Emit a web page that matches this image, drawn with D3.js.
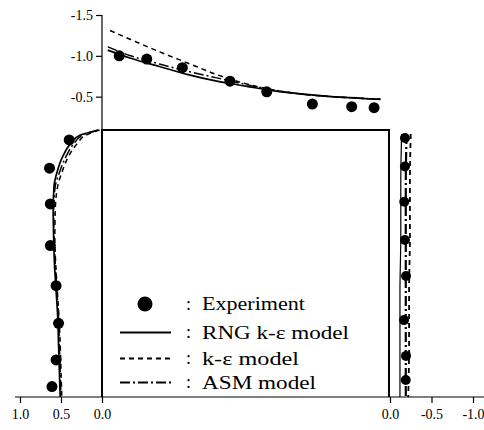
<!DOCTYPE html>
<html>
<head>
<meta charset="utf-8">
<script src="https://cdn.jsdelivr.net/npm/d3@7/dist/d3.min.js"></script>
<style>
  body { margin: 0; background: #fff; }
  svg { display: block; font-family: "Liberation Serif", "DejaVu Serif", serif; }
</style>
</head>
<body>
<svg id="chart" width="484" height="430"></svg>
<script>
// ---- data ----
// roof profile: [position along roof 0..1, value]
var roofExp = [[0.06,-1.0],[0.156,-0.96],[0.28,-0.855],[0.446,-0.69],[0.574,-0.56],[0.733,-0.41],[0.87,-0.378],[0.948,-0.365]]
var roofRNG = [[0.02,-1.07],[0.1,-0.97],[0.2,-0.87],[0.3,-0.77],[0.4,-0.69],[0.5,-0.63],[0.6,-0.57],[0.7,-0.53],[0.8,-0.5],[0.9,-0.48],[0.97,-0.465]]
var roofKE  = [[0.028,-1.31],[0.1,-1.2],[0.2,-1.05],[0.3,-0.91],[0.4,-0.77],[0.5,-0.66],[0.6,-0.58],[0.7,-0.53],[0.8,-0.5],[0.9,-0.48],[0.97,-0.47]]
var roofASM = [[0.02,-1.11],[0.1,-1.0],[0.2,-0.9],[0.3,-0.81],[0.4,-0.73],[0.5,-0.65],[0.6,-0.58],[0.7,-0.53],[0.8,-0.5],[0.9,-0.48],[0.97,-0.47]]

// windward wall profile: [height 0..1, value]
var frontExp = [[0.963,0.40],[0.857,0.64],[0.723,0.63],[0.567,0.63],[0.417,0.56],[0.276,0.53],[0.139,0.56],[0.039,0.61]]
var frontRNG = [[1.0,0.05],[0.98,0.27],[0.95,0.38],[0.9,0.48],[0.84,0.55],[0.79,0.585],[0.7,0.595],[0.6,0.59],[0.5,0.58],[0.4,0.56],[0.3,0.54],[0.2,0.53],[0.1,0.52],[0.0,0.51]]
var frontKE  = [[1.0,0.03],[0.98,0.2],[0.95,0.3],[0.9,0.41],[0.84,0.49],[0.79,0.54],[0.7,0.57],[0.6,0.575],[0.5,0.565],[0.4,0.545],[0.3,0.525],[0.2,0.51],[0.1,0.5],[0.0,0.49]]
var frontASM = [[1.0,0.04],[0.98,0.24],[0.95,0.34],[0.9,0.44],[0.84,0.52],[0.79,0.57],[0.7,0.59],[0.6,0.585],[0.5,0.57],[0.4,0.55],[0.3,0.53],[0.2,0.52],[0.1,0.51],[0.0,0.5]]

// leeward wall profile: [height 0..1, value]
var backExp = [[0.97,-0.18],[0.863,-0.18],[0.731,-0.172],[0.588,-0.18],[0.453,-0.193],[0.288,-0.169],[0.154,-0.193],[0.064,-0.19]]
var backRNG = [[0.985,-0.14],[0.8,-0.13],[0.6,-0.13],[0.4,-0.12],[0.2,-0.12],[0.0,-0.12]]
var backKE  = [[0.985,-0.25],[0.8,-0.24],[0.6,-0.24],[0.4,-0.23],[0.2,-0.23],[0.0,-0.22]]
var backASM = [[0.985,-0.2],[0.8,-0.19],[0.6,-0.19],[0.4,-0.19],[0.2,-0.19],[0.0,-0.19]]

var roofTicks = [-1.5, -1.0, -0.5]
var frontTicks = [1.0, 0.5, 0.0]
var backTicks = [0.0, -0.5, -1.0]
var legendLabels = ['Experiment', 'RNG k-\u03b5 model', 'k-\u03b5 model', 'ASM model']

// ---- layout ----
var svg = d3.select('#chart')
var bx0 = 102, bx1 = 389, by0 = 130, by1 = 397

var roofX = d3.scaleLinear().domain([0, 1]).range([bx0, bx1])
var roofY = d3.scaleLinear().domain([0, -1.5]).range([137.5, 15])
var frontX = d3.scaleLinear().domain([0, 1]).range([bx0, 20])
var backX = d3.scaleLinear().domain([0, -1]).range([390, 473])
var wallY = d3.scaleLinear().domain([0, 1]).range([by1, by0])

var styles = {
  rng: { w: 1.7, dash: null },
  ke:  { w: 1.5, dash: '5,4' },
  asm: { w: 1.5, dash: '10,3,2,3' }
}

var fmt = function (d) { return d.toFixed(1) }

// building
svg.append('path')
  .attr('d', 'M' + bx0 + ',' + by1 + 'V' + by0 + 'H' + bx1 + 'V' + by1)
  .attr('fill', 'none').attr('stroke', '#000').attr('stroke-width', 2)

// roof axis (vertical, left)
svg.append('line').attr('x1', bx0).attr('x2', bx0).attr('y1', 15).attr('y2', by0)
  .attr('stroke', '#000').attr('stroke-width', 1.2)
var ga = svg.append('g').attr('transform', 'translate(' + bx0 + ',0)')
  .call(d3.axisLeft(roofY).tickValues(roofTicks).tickFormat(fmt).tickSize(6).tickPadding(3))
ga.select('.domain').remove()

// ground axis
svg.append('line').attr('x1', 15).attr('x2', 484).attr('y1', by1).attr('y2', by1)
  .attr('stroke', '#000').attr('stroke-width', 1.2)
var gf = svg.append('g').attr('transform', 'translate(0,' + by1 + ')')
  .call(d3.axisBottom(frontX).tickValues(frontTicks).tickFormat(fmt).tickSize(6).tickPadding(6))
gf.select('.domain').remove()
var gb = svg.append('g').attr('transform', 'translate(0,' + by1 + ')')
  .call(d3.axisBottom(backX).tickValues(backTicks).tickFormat(fmt).tickSize(6).tickPadding(6))
gb.select('.domain').remove()

svg.selectAll('.tick line').attr('stroke', '#000').attr('stroke-width', 1.2)
svg.selectAll('.tick text').attr('font-family', '"Liberation Serif", serif')
  .attr('font-size', 14).attr('fill', '#000')

function drawLine(data, line, st) {
  svg.append('path').datum(data)
    .attr('d', line)
    .attr('fill', 'none').attr('stroke', '#000')
    .attr('stroke-width', st.w)
    .attr('stroke-dasharray', st.dash)
}
function drawDots(data, fx, fy, r) {
  svg.append('g').selectAll('circle').data(data).join('circle')
    .attr('cx', fx).attr('cy', fy).attr('r', r).attr('fill', '#000')
}

// roof profile
var roofLine = d3.line().x(function (d) { return roofX(d[0]) }).y(function (d) { return roofY(d[1]) }).curve(d3.curveMonotoneX)
drawLine(roofRNG, roofLine, styles.rng)
drawLine(roofASM, roofLine, styles.asm)
drawLine(roofKE, roofLine, styles.ke)
drawDots(roofExp, function (d) { return roofX(d[0]) }, function (d) { return roofY(d[1]) }, 5.5)

// windward profile
var frontLine = d3.line().x(function (d) { return frontX(d[1]) }).y(function (d) { return wallY(d[0]) }).curve(d3.curveMonotoneY)
drawLine(frontRNG, frontLine, styles.rng)
drawLine(frontASM, frontLine, styles.asm)
drawLine(frontKE, frontLine, styles.ke)
drawDots(frontExp, function (d) { return frontX(d[1]) }, function (d) { return wallY(d[0]) }, 5.5)

// leeward profile
var backLine = d3.line().x(function (d) { return backX(d[1]) }).y(function (d) { return wallY(d[0]) }).curve(d3.curveMonotoneY)
drawLine(backRNG, backLine, { w: 1.2, dash: null })
drawLine(backASM, backLine, { w: 2.2, dash: '10,3,2,3' })
drawLine(backKE, backLine, { w: 1.8, dash: '5,4' })
drawDots(backExp, function (d) { return backX(d[1]) }, function (d) { return wallY(d[0]) }, 5)

// legend
var legRows = [304, 332.5, 358.5, 382.5]
var legWidths = [103, 147, 97, 114]
var legStyles = [null, styles.rng, styles.ke, styles.asm]
var leg = svg.append('g')
legendLabels.forEach(function (lab, i) {
  var y = legRows[i]
  if (i === 0) {
    leg.append('circle').attr('cx', 145).attr('cy', y).attr('r', 7.5).attr('fill', '#000')
  } else {
    leg.append('line').attr('x1', 120).attr('x2', 171).attr('y1', y).attr('y2', y)
      .attr('stroke', '#000').attr('stroke-width', 2)
      .attr('stroke-dasharray', legStyles[i].dash)
  }
  leg.append('text').attr('x', 186).attr('y', y + 5.5).attr('font-size', 18).text(':')
  leg.append('text').attr('x', 202).attr('y', y + 6)
    .attr('font-size', 18)
    .attr('textLength', legWidths[i]).attr('lengthAdjust', 'spacingAndGlyphs')
    .text(lab)
})
</script>
</body>
</html>
